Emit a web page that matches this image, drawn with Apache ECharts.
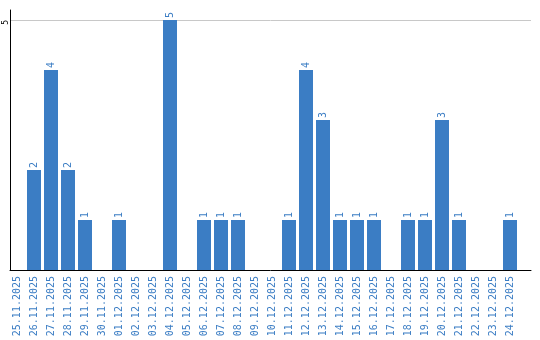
<!DOCTYPE html>
<html>
<head>
<meta charset="utf-8">
<script src="https://cdn.jsdelivr.net/npm/echarts@6/dist/echarts.min.js"></script>
<style>html,body{margin:0;padding:0;background:#fff}#c{width:540px;height:340px}</style>
</head>
<body>
<div id="c"></div>
<script>
const categories = ["25.11.2025","26.11.2025","27.11.2025","28.11.2025","29.11.2025","30.11.2025","01.12.2025","02.12.2025","03.12.2025","04.12.2025","05.12.2025","06.12.2025","07.12.2025","08.12.2025","09.12.2025","10.12.2025","11.12.2025","12.12.2025","13.12.2025","14.12.2025","15.12.2025","16.12.2025","17.12.2025","18.12.2025","19.12.2025","20.12.2025","21.12.2025","22.12.2025","23.12.2025","24.12.2025"];
const values = [0,2,4,2,1,0,1,0,0,5,0,1,1,1,0,0,1,4,3,1,1,1,0,1,1,3,1,0,0,1];
const yTicks = [5];

const barColor = '#3b7dc4';
const font = 'DejaVu Sans Mono';
const chart = echarts.init(document.getElementById('c'));
chart.setOption({
  animation: false,
  grid: [
    {left: 8.5, width: 510, top: 10, height: 260},
    {left: 10, right: 9, top: 10, height: 260}
  ],
  xAxis: [
    {type: 'category', gridIndex: 0, data: categories,
     axisLine: {show: false}, axisTick: {show: false},
     axisLabel: {rotate: 90, interval: 0, fontSize: 10, fontFamily: font, color: '#3b7dc4', margin: 6}},
    {type: 'category', gridIndex: 1, data: categories,
     axisLine: {show: true, lineStyle: {color: '#000', width: 1}}, axisTick: {show: false},
     axisLabel: {show: false}}
  ],
  yAxis: [
    {type: 'value', gridIndex: 0, min: 0, max: 5.2, show: false, splitLine: {show: false}},
    {type: 'value', gridIndex: 1, min: 0, max: 5.2, interval: 5,
     axisLine: {show: true, lineStyle: {color: '#000', width: 1}}, axisTick: {show: false},
     splitLine: {show: true, showMinLine: false, showMaxLine: false, lineStyle: {color: '#c8c8c8', width: 1}},
     axisLabel: {rotate: 90, fontSize: 8, fontFamily: font, color: '#000', margin: 0,
       align: 'right', verticalAlign: 'bottom', padding: [0, 0, 0, 0],
       showMinLabel: false, showMaxLabel: false,
       formatter: v => (yTicks.indexOf(v) >= 0 ? String(v) : '')}}
  ],
  series: [{
    type: 'bar', xAxisIndex: 0, yAxisIndex: 0, data: values, barWidth: 14,
    itemStyle: {color: barColor},
    label: {show: true, position: 'top', distance: 2, rotate: 90, align: 'left', verticalAlign: 'middle',
      fontSize: 10, fontFamily: font, color: '#3b7dc4',
      formatter: p => (p.value > 0 ? String(p.value) : '')}
  }]
});
</script>
</body>
</html>
